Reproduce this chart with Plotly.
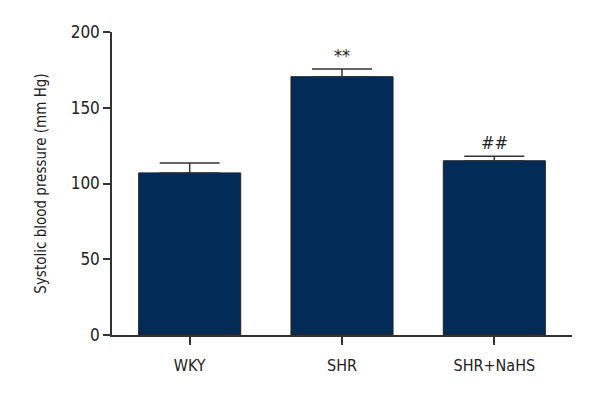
import plotly.graph_objects as go

# data
groups = ["WKY", "SHR", "SHR+NaHS"]
sbp_mean = [107, 170.5, 115]
sbp_sem = [6.5, 5, 3]
marks = ["", "**", "##"]

y_ticks = [0, 50, 100, 150, 200]

FONT = "DejaVu Sans Condensed, Liberation Sans Narrow, sans-serif"
NAVY = "#032b58"
AXIS = "#333333"

fig = go.Figure()

fig.add_trace(go.Bar(
    x=groups,
    y=sbp_mean,
    width=0.67,
    marker=dict(color=NAVY, line=dict(color="#222222", width=1)),
    error_y=dict(type="data", array=sbp_sem, symmetric=False, arrayminus=[0, 0, 0],
                 color=AXIS, thickness=1.5, width=30),
    showlegend=False,
))

# significance marks above the error bars
for g, m, s, t in zip(groups, sbp_mean, sbp_sem, marks):
    if not t:
        continue
    fig.add_annotation(x=g, y=m + s, text=t, showarrow=False,
                       yanchor="bottom", yshift=1,
                       font=dict(family=FONT, size=18, color="#222222"))

# page body has an 8px margin, so shift the plot area back by that much
fig.update_layout(
    width=600, height=400,
    margin=dict(l=104, r=36, t=24, b=73),
    paper_bgcolor="white", plot_bgcolor="white",
    font=dict(family=FONT, size=17, color="#222222"),
)

fig.update_xaxes(
    range=[-0.51, 2.51],
    showline=True, linecolor=AXIS, linewidth=1.5,
    ticks="outside", ticklen=8, tickwidth=1.5, tickcolor=AXIS,
    showgrid=False, zeroline=False,
    tickfont=dict(family=FONT, size=16),
    ticklabelstandoff=7,
)

fig.update_yaxes(
    range=[0, 200], tickvals=y_ticks,
    showline=True, linecolor=AXIS, linewidth=1.5,
    ticks="outside", ticklen=7, tickwidth=1.5, tickcolor=AXIS,
    showgrid=False, zeroline=False,
    tickfont=dict(family=FONT, size=17),
    title=dict(text="Systolic blood pressure (mm Hg)", font=dict(family=FONT, size=15), standoff=20),
)

fig.write_html("out.html")
